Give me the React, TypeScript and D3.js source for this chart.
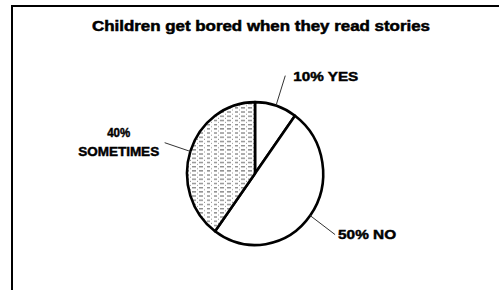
import React, { useEffect, useRef } from "react";
import * as d3 from "d3";

const title = "Children get bored when they read stories";
const categories = ["YES", "NO", "SOMETIMES"];
const percents = [10, 50, 40];

const App = () => {
  const svgRef = useRef<SVGSVGElement>(null);

  useEffect(() => {
    const width = 499;
    const height = 290;
    const cx = 255;
    const cy = 173.5;
    const radius = 68;
    const squash = 1.05;

    const svg = d3.select(svgRef.current).attr("width", width).attr("height", height);
    svg.selectAll("*").remove();

    const defs = svg.append("defs");
    const pat = defs
      .append("pattern")
      .attr("id", "dots")
      .attr("patternUnits", "userSpaceOnUse")
      .attr("width", 7)
      .attr("height", 4);
    pat.append("rect").attr("width", 7).attr("height", 4).attr("fill", "#fff");
    pat.append("rect").attr("x", 0).attr("y", 1).attr("width", 4).attr("height", 1).attr("fill", "#666");
    pat.append("rect").attr("x", 5).attr("y", 3).attr("width", 1).attr("height", 1).attr("fill", "#999");

    svg.append("rect").attr("width", width).attr("height", height).attr("fill", "#fff");

    // frame
    svg
      .append("path")
      .attr("d", `M12,${height} L12,6 L${width},6`)
      .attr("fill", "none")
      .attr("stroke", "#000")
      .attr("stroke-width", 2);

    svg
      .append("text")
      .attr("x", 92)
      .attr("y", 31)
      .attr("textLength", 338)
      .attr("lengthAdjust", "spacingAndGlyphs")
      .style("font-family", "'Liberation Sans', Arial, sans-serif")
      .style("font-weight", "bold")
      .style("font-size", "14px")
      .style("stroke", "#000")
      .style("stroke-width", 0.5)
      .text(title);

    const data = categories.map((c, i) => ({ cat: c, value: percents[i] }));
    const pie = d3
      .pie<{ cat: string; value: number }>()
      .value((d) => d.value)
      .sort(null);
    const data_ready = pie(data);

    const arc = d3.arc<d3.PieArcDatum<{ cat: string; value: number }>>().innerRadius(0).outerRadius(radius);

    const g = svg.append("g").attr("transform", `translate(${cx},${cy}) scale(1,${squash})`);

    g.selectAll("path")
      .data(data_ready)
      .enter()
      .append("path")
      .attr("d", arc)
      .attr("fill", (d) => (d.data.cat === "SOMETIMES" ? "url(#dots)" : "#fff"))
      .attr("stroke", "#000")
      .attr("stroke-width", 2.6)
      .attr("stroke-linejoin", "round")
      .attr("vector-effect", "non-scaling-stroke");

    const pointAt = (a: number, r: number) => [cx + r * Math.sin(a), cy - r * squash * Math.cos(a)];

    // label layout: leader end radius and text offsets
    const labelLayout: Record<string, { r: number; dx: number; dy: number; anchor: string; lines: string[] }> = {
      YES: { r: 98, dx: 8, dy: 5, anchor: "start", lines: ["10% YES"] },
      NO: { r: 99, dx: 3, dy: 4, anchor: "start", lines: ["50% NO"] },
      SOMETIMES: { r: 95, dx: -46, dy: -6, anchor: "middle", lines: ["40%", "SOMETIMES"] },
    };
    const widths: Record<string, number> = { "10% YES": 65, "50% NO": 58, "40%": 23, SOMETIMES: 81 };

    data_ready.forEach((d) => {
      const mid = (d.startAngle + d.endAngle) / 2;
      const lay = labelLayout[d.data.cat];
      const p0 = pointAt(mid, radius);
      const p1 = pointAt(mid, lay.r);
      svg
        .append("line")
        .attr("x1", p0[0])
        .attr("y1", p0[1])
        .attr("x2", p1[0])
        .attr("y2", p1[1])
        .attr("stroke", "#333")
        .attr("stroke-width", 1);
      lay.lines.forEach((ln, i) => {
        svg
          .append("text")
          .attr("x", p1[0] + lay.dx)
          .attr("y", p1[1] + lay.dy + i * 19)
          .attr("text-anchor", lay.anchor)
          .attr("textLength", widths[ln])
          .attr("lengthAdjust", "spacingAndGlyphs")
          .style("font-family", "'Liberation Sans', Arial, sans-serif")
          .style("font-weight", "bold")
          .style("font-size", "12.5px")
          .style("stroke", "#000")
          .style("stroke-width", 0.45)
          .text(ln);
      });
    });
  }, []);

  return <svg ref={svgRef} style={{ position: "absolute", left: 0, top: 0 }}></svg>;
};

export default App;
